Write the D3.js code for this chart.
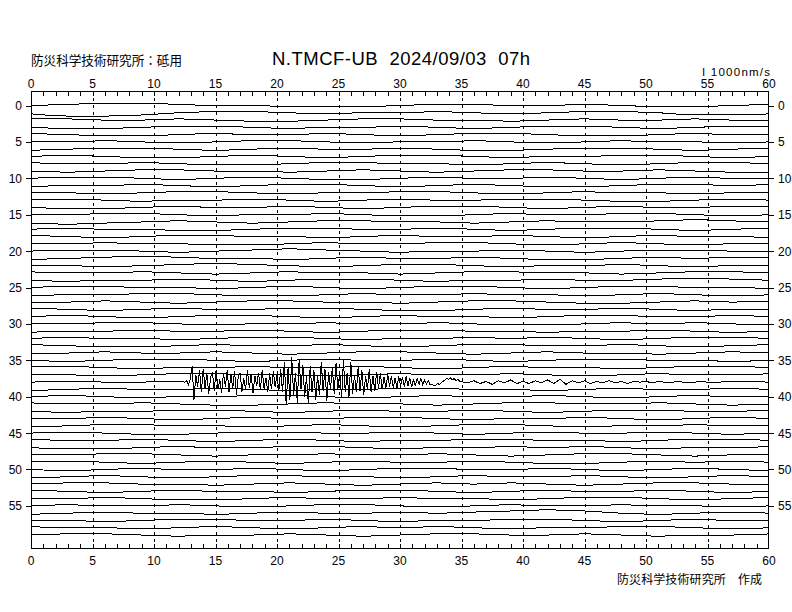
<!DOCTYPE html>
<html><head><meta charset="utf-8">
<script src="https://cdn.jsdelivr.net/npm/d3@7"></script>
<style>body{margin:0;background:#fff}svg text{font-family:"Liberation Sans",Arial,sans-serif;fill:#000}</style>
</head><body><svg id="c" width="792" height="612"></svg>
<script>
// ---- data ----
const titleText = "N.TMCF-UB  2024/09/03  07h";
const stationText = "防災科学技術研究所：砥用";
const creditText = "防災科学技術研究所　作成";
const scaleText = "I 1000nm/s";
const xTickLabels = [0,5,10,15,20,25,30,35,40,45,50,55,60];
const yTickLabels = [0,5,10,15,20,25,30,35,40,45,50,55];
const bgTimes = [0,3,6,9,12,15,18,21,24,27,30,33,36,39,42,45,48,51,54,57,60];
const bgUnit = 150;    // nm/s per unit in the background table
const quakeUnit = 100; // nm/s per unit in the quake tables
// background wobble per minute row (units of bgUnit)
const bg = [
[0,1,2,2,1,0,0,-1,-1,-1,0,1,1,0,0,1,0,-1,-1,0,1],
[-1,-3,-3,-2,0,1,1,0,-1,0,0,1,0,-1,0,1,1,0,-2,-2,-1],
[1,1,0,0,1,0,-1,-1,0,1,1,0,0,-1,0,1,0,0,1,0,0],
[0,-1,-1,0,1,1,0,-1,0,0,1,0,-1,0,1,1,0,-1,0,1,1],
[1,0,-1,-1,0,1,0,0,1,0,-1,0,1,1,0,-1,-1,0,1,0,0],
[0,0,1,0,-1,0,1,1,0,-1,0,0,1,0,-1,0,1,0,0,-1,0],
[-1,0,1,1,0,-1,0,1,0,0,1,0,-1,-1,0,1,1,0,-1,0,1],
[0,1,0,-1,-1,0,1,0,-1,0,1,1,0,-1,0,0,1,1,0,-1,0],
[1,0,0,1,0,-1,-1,0,1,1,0,0,-1,0,1,0,-1,0,1,1,0],
[0,-1,0,1,1,0,0,-1,0,1,0,-1,0,1,1,0,0,1,0,-1,-1],
[0,1,1,0,-1,0,1,0,-1,-1,0,1,0,0,1,0,-1,0,1,0,0],
[-1,0,0,1,0,-1,0,1,1,0,-1,0,1,0,-1,-1,0,1,1,0,1],
[0,0,-1,0,1,1,0,-1,0,0,1,1,0,-1,0,1,0,0,-1,0,0],
[1,1,0,-1,0,0,1,0,-1,0,1,0,0,1,1,0,-1,-1,0,1,0],
[0,-1,-1,0,1,0,0,1,0,-1,0,1,1,0,-1,0,1,0,0,1,1],
[0,0,1,1,0,-1,0,0,1,0,-1,-1,0,1,0,0,1,1,0,-1,0],
[-1,-2,-1,0,1,0,-1,0,1,1,0,0,-1,0,1,0,0,1,2,1,0],
[0,1,0,0,-1,-1,0,1,1,0,0,1,0,-1,0,1,1,0,-1,0,1],
[1,0,-1,0,1,1,0,0,-1,0,1,0,0,1,0,-1,0,1,0,0,-1],
[0,0,1,0,0,-1,-1,0,1,0,0,1,1,0,-1,0,1,0,-1,0,0],
[0,1,1,0,-1,0,1,2,1,0,-1,0,0,1,0,-1,0,1,1,0,0],
[-1,0,1,2,1,0,0,-1,0,1,0,0,1,0,-1,-1,0,1,0,1,1],
[0,0,-1,0,1,2,1,0,-1,0,1,1,0,-1,0,0,1,0,-1,0,0],
[1,0,0,1,0,-1,0,1,0,0,-1,0,1,1,0,0,-1,0,1,1,0],
[0,-1,0,0,1,0,-1,0,1,1,0,-1,0,0,1,0,0,1,2,1,0],
[0,1,1,0,0,-1,0,1,0,-1,0,1,1,0,-1,0,1,1,0,0,-1],
[-1,0,0,1,1,0,-1,-1,0,1,0,0,1,0,0,-1,0,1,0,-1,0],
[0,0,1,0,-1,0,1,1,0,0,-1,0,1,1,0,-1,-1,0,1,0,1],
[1,0,-1,0,1,0,0,1,1,0,-1,-1,0,1,0,0,1,0,-1,0,0],
[0,1,0,-1,0,1,1,0,-1,0,1,0,0,-1,0,1,1,0,0,1,0],
[0,0,1,1,0,-1,0,0,1,0,0,1,0,-1,-1,0,1,0,1,0,-1],
[-1,0,0,1,0,0,1,0,-1,0,1,1,0,0,-1,0,0,1,0,-1,0],
[0,1,0,0,-1,0,1,1,0,-1,0,0,1,0,1,0,-1,0,1,1,0],
[1,0,-1,-1,0,1,0,0,1,0,-1,0,1,1,0,0,1,0,-1,0,1],
[0,0,1,0,0,1,0,-1,0,1,1,0,-1,0,1,0,0,-1,0,1,0],
[0,-1,0,1,1,0,-1,0,1,0,0,1,0,-1,0,1,1,0,0,-1,0],
[1,1,0,-1,0,0,1,0,0,1,0,-1,0,1,0,0,-1,0,1,1,0],
[0,0,-1,0,1,1,0,0,-1,0,1,0,0,1,0,-1,0,1,0,0,1],
[0,1,0,0,1,0,0,0,0,0,0,0,0,0,0,0,0,0,0,1,0],
[-1,0,1,0,0,1,0,-1,0,0,1,1,0,0,-1,0,1,0,0,1,0],
[0,1,0,-1,0,0,1,1,0,-1,0,1,0,0,1,0,-1,0,1,0,0],
[1,0,0,1,0,-1,-1,0,1,0,0,-1,0,1,1,0,0,1,0,-1,0],
[0,-1,0,0,1,1,0,-1,0,1,0,0,1,0,-1,0,1,1,0,0,1],
[0,0,1,0,-1,0,1,0,0,1,1,0,-1,0,0,1,0,-1,0,1,0],
[-1,0,1,1,0,0,-1,0,1,0,-1,0,1,1,0,-1,0,0,1,0,0],
[0,1,0,-1,-1,0,1,1,0,0,1,0,-1,0,1,0,0,1,0,-1,0],
[1,0,0,1,0,-1,0,1,0,-1,0,0,1,1,0,0,-1,0,1,1,0],
[0,-1,-1,0,1,0,0,1,1,0,-1,0,0,1,0,1,0,-1,0,0,1],
[0,0,1,1,0,-1,0,0,1,0,0,1,0,-1,0,1,1,0,-1,0,0],
[1,1,0,-1,0,1,0,-1,0,1,0,0,1,0,-1,-1,0,1,0,1,0],
[0,-1,0,1,0,0,1,0,-1,0,1,1,0,0,1,0,-1,0,1,0,-1],
[-1,0,1,0,-1,0,1,1,0,0,-1,0,1,0,0,1,0,-1,0,1,0],
[0,1,1,0,0,-1,0,1,0,-1,0,1,0,1,0,-1,0,1,1,0,0],
[1,0,-1,0,1,0,0,-1,0,1,1,0,-1,0,1,0,0,1,0,-1,0],
[0,0,1,0,-1,-1,0,1,0,0,1,0,0,-1,0,1,1,0,-1,0,1],
[0,1,0,0,1,0,-1,0,1,1,0,-1,0,1,0,0,1,0,0,-1,0],
[-1,0,1,0,0,-1,0,1,0,0,1,0,1,2,3,2,0,-1,0,1,0],
[0,0,-1,0,1,1,0,0,1,0,-1,0,0,1,1,0,-1,0,1,0,0],
[1,0,0,-1,0,1,0,-1,0,1,0,1,0,-1,0,0,1,1,0,-1,0],
[0,1,1,0,-1,0,0,1,0,-1,0,1,1,0,0,1,0,-1,0,0,1]
];
// earthquake on minute row 38 (units of quakeUnit)
const quakeRow = 38;
const quakeStart = 12.5, quakeStep = 0.15;
const quakeValues = [
0,2,-3,4,22,-24,10,-6,16,-14,
18,-8,12,-16,6,14,-12,17,-10,4,
-15,13,-6,16,-14,11,-9,15,-17,8,
12,-13,5,-10,16,-8,11,-15,9,-5,
13,-11,17,-9,6,-14,12,-10,15,-7,
10,-12,18,-14,28,-32,20,-24,34,-18,
12,-28,30,-10,24,-20,8,-30,22,-14,
16,-24,10,-18,28,-12,18,-26,14,-10,
20,-16,26,-10,14,-22,30,-14,12,-20,
28,-16,10,-14,22,-12,16,-18,8,-10,
18,-14,9,-12,14,-8,12,-10,7,-9,
11,-7,9,-8,6,-9,8,-5,7,-6,
8,-5,6,-7,4,-5,6,-3,5,-4,
3,-3,2,-4,-3,-5,-4,-2,-3,-1,
1,3,5,4,6,3,5,2,4,1];
const codaStart = 35.5, codaStep = 0.5;
const codaValues = [-1,2,-2,1,-3,2,-1,3,-2,1,-2,2,-1,3,-2,4,-3,2,-1,2,-2,1,-1,2,-1,1,-2,1,0,1,-1,1,0,-1,1,0,-1,0,1,0,0,0];

// ---- drawing ----
const svg = d3.select("#c");
const x = d3.scaleLinear().domain([0,60]).range([31,769]);
const row = d3.scaleLinear().domain([0,60]).range([105.5,542.3]);
const amp = d3.scaleLinear().domain([0,1000]).range([0,-7.28]); // nm/s -> px
const topY = 91, bottomY = 549;

// dashed grid
svg.append("g").selectAll("line").data(xTickLabels.filter(d=>d>0&&d<60)).join("line")
  .attr("x1",d=>Math.round(x(d))+0.5).attr("x2",d=>Math.round(x(d))+0.5)
  .attr("y1",topY).attr("y2",bottomY).attr("stroke","#000").attr("stroke-width",1)
  .attr("stroke-dasharray","3,4").attr("shape-rendering","crispEdges");

// traces
const lineBg = d3.line().x(d=>x(d[0])).y(d=>d[1]).curve(d3.curveMonotoneX);
const lineLin = d3.line().x(d=>x(d[0])).y(d=>d[1]);
const gT = svg.append("g").attr("shape-rendering","crispEdges");
bg.forEach((vals,i)=>{
  const base = row(i);
  const bgPt = (t,v)=>[t, base+amp(v*bgUnit)];
  if (i === quakeRow) {
    const qEnd = codaStart + codaStep*(codaValues.length-1);
    let pts = [];
    bgTimes.forEach((t,k)=>{ if (t < quakeStart) pts.push(bgPt(t,vals[k])); });
    quakeValues.forEach((v,k)=>pts.push([quakeStart+k*quakeStep, base+amp(v*quakeUnit)]));
    codaValues.forEach((v,k)=>pts.push([codaStart+k*codaStep, base+amp(v*quakeUnit)]));
    bgTimes.forEach((t,k)=>{ if (t > qEnd) pts.push(bgPt(t,vals[k])); });
    gT.append("path").attr("d",lineLin(pts)).attr("fill","none").attr("stroke","#000").attr("stroke-width",1);
  } else {
    const pts = bgTimes.map((t,k)=>bgPt(t,vals[k]));
    gT.append("path").attr("d",lineBg(pts)).attr("fill","none").attr("stroke","#000").attr("stroke-width",1);
  }
});

// frame
const gF = svg.append("g").attr("shape-rendering","crispEdges").attr("stroke","#000").attr("fill","none");
gF.append("rect").attr("x",31.5).attr("y",topY+0.5).attr("width",x(60)-x(0)-1).attr("height",bottomY-topY-1).attr("stroke-width",1);
const secTicks = d3.range(1,60);
gF.selectAll("line.tt").data(secTicks).join("line").attr("class","tt")
  .attr("x1",d=>Math.round(x(d))+0.5).attr("x2",d=>Math.round(x(d))+0.5).attr("y1",topY).attr("y2",topY+5);
gF.selectAll("line.bt").data(secTicks).join("line").attr("class","bt")
  .attr("x1",d=>Math.round(x(d))+0.5).attr("x2",d=>Math.round(x(d))+0.5).attr("y1",bottomY-5).attr("y2",bottomY);
gF.selectAll("line.lt").data(yTickLabels).join("line").attr("class","lt")
  .attr("x1",26).attr("x2",31).attr("y1",d=>Math.round(row(d))+0.5).attr("y2",d=>Math.round(row(d))+0.5);
gF.selectAll("line.rt").data(yTickLabels).join("line").attr("class","rt")
  .attr("x1",768).attr("x2",774).attr("y1",d=>Math.round(row(d))+0.5).attr("y2",d=>Math.round(row(d))+0.5);

// tick labels
const fs = 12;
svg.append("g").selectAll("text").data(xTickLabels).join("text")
  .attr("x",d=>x(d)).attr("y",87.5).attr("text-anchor","middle").attr("font-size",fs).text(d=>d);
svg.append("g").selectAll("text").data(xTickLabels).join("text")
  .attr("x",d=>x(d)).attr("y",565).attr("text-anchor","middle").attr("font-size",fs).text(d=>d);
svg.append("g").selectAll("text").data(yTickLabels).join("text")
  .attr("x",22).attr("y",d=>row(d)+4.5).attr("text-anchor","end").attr("font-size",fs).text(d=>d);
svg.append("g").selectAll("text").data(yTickLabels).join("text")
  .attr("x",778).attr("y",d=>row(d)+4.5).attr("text-anchor","start").attr("font-size",fs).text(d=>d);

// titles
svg.append("text").attr("x",272).attr("y",65).attr("font-size",18.5).attr("xml:space","preserve")
  .style("white-space","pre").attr("textLength",258).text(titleText);
svg.append("text").attr("x",31).attr("y",65).attr("font-size",12.6)
  .style("font-family","'Noto Sans CJK JP',sans-serif").attr("textLength",151).text(stationText);
svg.append("text").attr("x",617).attr("y",584).attr("font-size",12)
  .style("font-family","'Noto Sans CJK JP',sans-serif").attr("textLength",145).text(creditText);
svg.append("text").attr("x",702).attr("y",75.5).attr("font-size",11.5)
  .attr("textLength",68).text(scaleText);
</script></body></html>
